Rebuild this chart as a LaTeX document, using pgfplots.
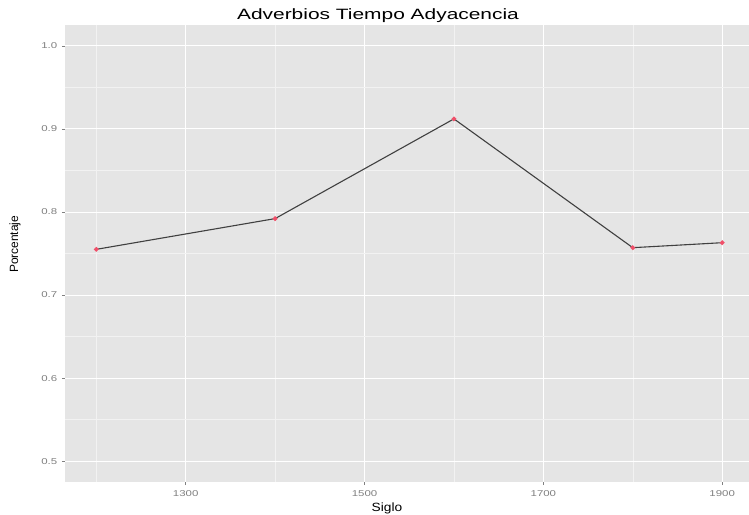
\documentclass[border=0pt]{standalone}
\usepackage{fontspec}
\setmainfont{Liberation Sans}
\usepackage{pgfplots}
\pgfplotsset{compat=1.18}
\definecolor{panel}{HTML}{E5E5E5}
\definecolor{minorgrid}{HTML}{F2F2F2}
\definecolor{ticklab}{HTML}{7F7F7F}
\definecolor{pt}{HTML}{F0506A}
\begin{document}
\begin{tikzpicture}
\useasboundingbox (-65bp,-33bp) rectangle (684bp,482bp);
\begin{axis}[
  at={(0,0)}, anchor=south west,
  scale only axis, width=684bp, height=457bp,
  xmin=1165, xmax=1930, ymin=0.475, ymax=1.025,
  axis background/.style={fill=panel},
  axis line style={draw=none},
  xtick={1300,1500,1700,1900},
  minor xtick={1200,1400,1600,1800},
  ytick={0.5,0.6,0.7,0.8,0.9,1.0},
  minor ytick={0.55,0.65,0.75,0.85,0.95},
  grid=both,
  major grid style={white, line width=0.9bp},
  minor grid style={minorgrid, line width=0.5bp},
  tick align=outside, major tick length=3bp, minor tick length=0pt,
  tick style={gray, line width=0.5bp},
  xtick pos=bottom, ytick pos=left,
  /pgf/number format/assume math mode=true,
  xticklabel style={font=\fontsize{8.5}{9}\selectfont, text=ticklab, xscale=1.35, yshift=-2bp, /pgf/number format/1000 sep={}},
  yticklabel style={font=\fontsize{8.5}{9}\selectfont, text=ticklab, xscale=1.35, /pgf/number format/fixed, /pgf/number format/fixed zerofill, /pgf/number format/precision=1},
  title={Adverbios Tiempo Adyacencia},
  title style={font=\fontsize{15}{17}\selectfont, at={(0.5,1)}, anchor=center, xshift=-29bp, yshift=3bp, xscale=1.4},
  xlabel={Siglo},
  xlabel style={font=\fontsize{12}{14}\selectfont, at={(0.5,0)}, anchor=center, xshift=-20bp, yshift=-26bp, xscale=1.15},
  ylabel={Porcentaje},
  ylabel style={font=\fontsize{12}{14}\selectfont, at={(0,0.52)}, anchor=center, yshift=50bp},
]
\addplot[color=black!75, line width=1.1bp, mark=*, mark size=1.8bp, mark options={fill=pt, draw=pt}]
  coordinates {(1200,0.755) (1400,0.792) (1600,0.912) (1800,0.757) (1900,0.763)};
\end{axis}
\end{tikzpicture}
\end{document}
